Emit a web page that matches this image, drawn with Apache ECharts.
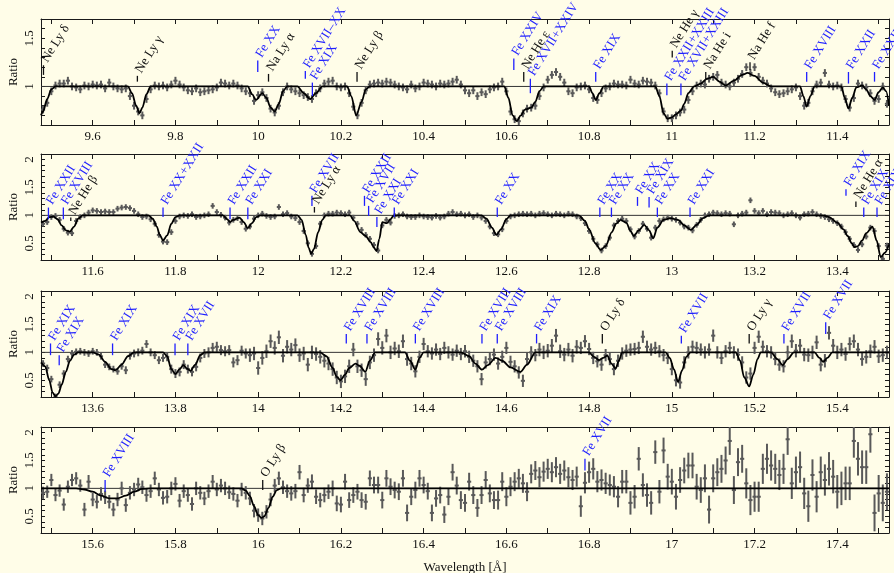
<!DOCTYPE html>
<html><head><meta charset="utf-8">
<script src="https://cdn.jsdelivr.net/npm/echarts@6/dist/echarts.min.js"></script>
<style>html,body{margin:0;padding:0;background:#fffde8}#c{width:894px;height:573px}</style>
</head><body><div id="c"></div><script>
// ---------------- DATA ----------------
const binWidth = 0.01;                 // spectral bin width [Å]
const p1Start = 9.48, p2Start = 11.48, p3Start = 13.48, p4Start = 15.48; // first bin centres

const p1Ratio = [0.76,0.83,0.95,1.01,1.03,1.03,1.06,1.00,0.99,0.97,
1.01,1.00,1.02,1.01,1.02,0.98,1.04,1.00,0.98,0.97,
0.98,0.90,0.80,0.74,0.70,0.87,0.97,1.01,1.00,1.01,
0.99,1.02,1.06,1.02,0.99,0.96,0.95,0.98,0.94,0.95,
0.96,0.97,0.99,1.04,1.03,1.01,1.03,1.01,0.98,0.95,
0.93,0.85,0.91,0.94,0.88,0.77,0.73,0.80,0.94,1.00,
0.97,0.95,0.93,0.91,0.89,0.87,0.93,0.98,1.03,1.05,
1.06,1.00,0.99,1.00,0.93,0.79,0.70,0.83,0.96,1.02,
1.03,1.04,1.03,1.05,1.04,1.02,1.00,0.99,0.97,1.02,
0.98,1.00,1.04,1.03,1.02,1.00,1.03,1.02,1.03,1.05,
1.07,1.02,0.96,0.93,0.96,0.90,0.94,0.92,0.97,0.99,
1.00,1.05,0.95,0.74,0.66,0.64,0.72,0.77,0.78,0.80,
0.90,0.99,1.07,1.12,1.15,1.10,1.04,0.95,0.93,0.99,
1.00,1.01,0.97,0.88,0.86,0.93,0.98,1.00,1.03,1.02,
1.02,1.01,1.07,1.03,1.02,1.06,1.05,1.04,1.01,0.93,
0.74,0.67,0.67,0.70,0.73,0.76,0.86,0.95,1.01,1.03,
1.02,1.08,1.10,1.12,1.04,1.02,1.00,1.04,1.08,1.13,
1.20,1.14,1.20,1.10,1.06,1.03,0.98,0.94,0.92,0.93,
0.95,0.97,0.99,0.90,0.80,0.83,0.95,1.02,1.04,1.14,
1.02,1.00,1.01,0.99,0.87,0.78,0.88,1.03,1.01,0.99,
0.93,0.85,0.87,1.00,0.82];
const p2Ratio = [0.85,0.88,0.97,0.99,0.92,0.76,0.69,0.68,0.90,0.97,
1.00,1.05,1.09,1.08,1.06,1.07,1.06,1.06,1.12,1.14,
1.15,1.13,1.08,1.02,0.97,0.98,0.93,0.85,0.65,0.53,
0.52,0.70,0.90,0.98,1.00,0.99,1.02,0.97,0.98,1.00,
1.02,1.17,1.06,1.01,0.96,0.87,0.92,0.95,0.88,0.76,
0.80,0.94,1.00,1.03,0.99,0.97,0.98,1.15,1.02,1.04,
0.98,0.95,0.88,0.72,0.50,0.31,0.45,0.85,1.00,1.03,
1.03,1.05,1.04,1.02,1.05,0.96,0.85,0.74,0.65,0.58,
0.47,0.37,0.82,0.92,0.87,0.99,1.00,1.02,0.98,0.97,
0.97,1.00,0.98,0.97,0.96,0.99,0.96,0.98,1.03,1.06,
1.02,1.03,1.00,1.02,0.97,1.00,0.96,0.90,0.80,0.68,
0.66,0.75,0.90,0.98,1.00,1.02,1.03,1.02,1.03,1.00,
1.03,1.04,1.02,1.00,1.03,1.02,1.00,1.03,1.02,0.98,
0.95,0.86,0.72,0.58,0.48,0.37,0.45,0.60,0.82,0.90,
0.94,0.90,0.75,0.62,0.72,0.85,0.76,0.60,0.78,0.90,
0.93,0.96,0.94,0.92,0.87,0.80,0.78,0.73,0.83,0.92,
1.00,1.02,1.05,1.04,1.02,1.04,1.03,0.84,1.00,1.03,
1.05,1.27,1.08,1.04,1.08,1.02,1.06,1.05,1.04,1.00,
1.02,1.04,1.00,0.96,1.02,1.03,1.06,1.02,0.99,0.97,
0.93,0.90,0.86,0.80,0.70,0.58,0.47,0.38,0.48,0.62,
0.78,0.72,0.45,0.22,0.46];
const p3Ratio = [0.80,0.72,0.52,0.20,0.42,0.62,0.88,0.98,1.01,1.02,
1.00,0.98,1.02,1.00,0.93,0.78,0.74,0.70,0.66,0.75,
0.68,0.94,0.98,1.00,1.03,1.15,1.00,0.95,0.86,0.90,
0.92,0.70,0.62,0.65,0.78,0.70,0.65,0.74,0.90,0.98,
1.00,1.08,1.10,1.04,1.02,1.04,0.82,0.86,1.03,0.98,
0.95,0.98,0.72,0.90,1.02,1.20,1.08,1.27,0.94,1.10,
1.05,1.13,0.95,0.98,0.78,1.00,0.97,0.92,0.85,0.80,
0.70,0.55,0.48,0.57,0.75,1.05,0.75,0.68,0.52,0.82,
0.95,1.24,1.08,1.30,1.00,1.07,1.02,1.20,0.88,0.80,
0.66,0.92,1.15,1.02,0.98,1.05,0.97,1.08,1.00,0.96,
1.03,0.97,1.02,0.92,0.85,0.75,0.52,0.82,0.88,0.96,
0.80,0.92,1.08,0.83,0.75,0.64,0.49,0.88,1.00,0.95,
1.05,1.00,1.03,1.12,1.30,1.02,0.96,1.05,0.94,1.10,
1.08,1.20,1.06,0.90,0.84,0.78,0.95,0.88,0.70,0.85,
0.98,1.03,1.05,1.06,1.08,1.28,1.10,1.05,1.08,1.02,
0.95,0.90,0.70,0.50,0.46,0.82,1.00,1.10,1.08,1.05,
1.00,1.05,1.30,1.00,0.90,1.02,1.08,1.00,0.96,0.82,
0.55,0.62,1.08,1.28,1.10,1.02,1.00,0.88,0.78,0.75,
1.00,1.20,1.03,1.12,0.96,0.95,1.00,1.18,0.78,0.85,
1.35,1.12,1.00,1.05,0.97,1.15,1.20,1.05,0.88,0.92,
1.02,1.10,0.93,0.95,1.00];
const p4Ratio = [0.92,0.94,1.15,0.88,0.96,0.71,1.03,1.15,1.18,1.05,
0.62,1.12,0.80,0.76,0.90,0.84,0.76,0.62,0.80,1.00,
0.70,0.92,0.98,1.07,1.02,0.88,0.95,1.18,0.98,0.83,
0.85,1.00,1.08,0.78,0.95,0.88,0.72,1.00,0.92,0.82,
0.95,1.12,0.98,1.05,1.00,0.93,0.90,0.78,0.98,0.92,
0.82,0.60,0.52,0.46,0.58,0.80,1.05,1.18,1.02,0.95,
0.91,0.95,1.29,0.88,1.05,1.12,0.85,0.79,0.88,0.94,
1.00,0.73,0.71,1.12,0.79,0.88,0.94,0.79,0.76,1.18,
1.06,1.06,0.79,1.18,1.03,0.97,0.94,1.18,0.56,0.85,
0.97,1.18,1.06,0.95,0.56,0.82,0.88,0.53,0.85,1.29,
1.05,0.79,0.74,1.12,0.88,0.65,0.88,1.15,0.91,0.79,
0.79,1.12,0.85,1.03,1.12,1.18,1.09,0.94,1.26,1.32,
1.20,1.30,1.35,1.29,1.38,1.26,1.32,1.20,1.15,1.21,
0.68,1.10,1.29,1.35,1.12,1.15,1.09,1.06,1.03,0.85,
1.12,1.12,0.74,0.85,1.53,1.06,0.88,0.74,1.65,0.94,
1.68,1.21,1.12,0.85,1.15,1.32,1.41,1.41,1.03,0.97,
1.18,0.62,1.18,1.29,1.35,1.50,1.85,0.97,1.47,1.53,
1.09,0.79,0.85,0.85,1.35,1.53,1.41,1.35,1.24,1.35,
1.88,1.09,1.29,1.38,0.91,0.68,1.24,0.85,1.29,1.15,
1.35,1.21,0.94,1.00,1.09,1.09,1.85,1.53,1.38,1.38,
1.97,0.56,0.91,0.74,0.94];

// 1-sigma errors, one value per 0.1 Å stretch
const p1Err = [0.04,0.04,0.04,0.04,0.04,0.04,0.04,0.04,0.04,0.04,0.04,0.04,0.04,0.04,0.04,0.04,0.04,0.04,0.04,0.04,0.04];
const p2Err = [0.05,0.05,0.05,0.05,0.05,0.05,0.05,0.05,0.05,0.05,0.05,0.05,0.05,0.05,0.05,0.05,0.05,0.05,0.05,0.05,0.05];
const p3Err = [0.06,0.06,0.07,0.08,0.09,0.12,0.12,0.12,0.12,0.11,0.11,0.11,0.12,0.11,0.11,0.11,0.11,0.11,0.12,0.12,0.12];
const p4Err = [0.11,0.12,0.12,0.12,0.12,0.12,0.13,0.14,0.15,0.15,0.16,0.17,0.18,0.19,0.21,0.23,0.25,0.27,0.28,0.30,0.33];

// model curves (wavelength, ratio)
const p1ModelX = [9.475,9.48,9.49,9.50,9.51,9.685,9.695,9.705,9.713,9.72,9.73,9.74,9.975,9.985,9.995,10.01,10.02,10.03,10.04,10.05,10.06,10.07,10.095,10.11,10.126,10.14,10.155,10.215,10.225,10.237,10.25,10.26,10.27,10.595,10.605,10.615,10.625,10.635,10.645,10.66,10.67,10.68,10.69,10.80,10.808,10.816,10.825,10.835,10.96,10.97,10.98,10.99,11.00,11.01,11.022,11.03,11.04,11.054,11.07,11.085,11.10,11.115,11.13,11.15,11.17,11.183,11.20,11.22,11.24,11.31,11.318,11.326,11.335,11.345,11.41,11.418,11.427,11.436,11.446,11.46,11.47,11.48,11.49,11.50,11.51,11.518,11.525];
const p1ModelY = [0.70,0.74,0.87,0.97,1.0,1.0,0.93,0.80,0.72,0.78,0.92,1.0,1.0,0.92,0.86,0.93,0.88,0.78,0.74,0.82,0.95,1.0,1.0,0.93,0.87,0.93,1.0,1.0,0.90,0.70,0.84,0.97,1.0,1.0,0.88,0.70,0.64,0.70,0.76,0.78,0.84,0.95,1.0,1.0,0.93,0.86,0.93,1.0,1.0,0.90,0.72,0.665,0.68,0.71,0.75,0.82,0.93,1.0,1.03,1.08,1.10,1.05,1.01,1.06,1.12,1.14,1.11,1.04,1.0,1.0,0.90,0.79,0.90,1.0,1.0,0.88,0.77,0.88,0.99,1.01,0.97,0.90,0.86,0.94,0.99,0.95,0.80];
const p2ModelX = [11.475,11.485,11.495,11.505,11.515,11.525,11.535,11.545,11.555,11.565,11.575,11.735,11.745,11.755,11.762,11.77,11.78,11.79,11.80,11.81,11.915,11.925,11.932,11.94,11.955,11.965,11.975,11.985,11.995,12.005,12.095,12.105,12.115,12.122,12.128,12.135,12.145,12.155,12.163,12.222,12.232,12.247,12.26,12.272,12.28,12.286,12.293,12.30,12.311,12.32,12.328,12.54,12.552,12.565,12.576,12.587,12.60,12.61,12.775,12.79,12.80,12.815,12.828,12.84,12.855,12.865,12.876,12.89,12.90,12.908,12.92,12.933,12.945,12.955,12.965,12.98,12.997,13.015,13.03,13.046,13.06,13.075,13.09,13.365,13.38,13.40,13.415,13.425,13.435,13.441,13.45,13.46,13.47,13.485,13.495,13.505,13.515,13.525];
const p2ModelY = [0.87,0.90,0.97,0.98,0.93,0.82,0.73,0.71,0.80,0.94,1.0,1.0,0.94,0.80,0.65,0.55,0.64,0.85,0.97,1.0,1.0,0.93,0.88,0.92,0.96,0.88,0.77,0.86,0.97,1.0,1.0,0.92,0.65,0.42,0.31,0.40,0.70,0.92,1.0,1.0,0.90,0.70,0.63,0.52,0.42,0.36,0.58,0.88,0.86,0.93,1.0,1.0,0.94,0.78,0.65,0.75,0.93,1.0,1.0,0.90,0.75,0.50,0.38,0.45,0.70,0.85,0.92,0.87,0.72,0.63,0.73,0.83,0.73,0.59,0.78,0.92,0.95,0.92,0.82,0.74,0.83,0.95,1.0,1.0,0.97,0.87,0.75,0.63,0.50,0.43,0.45,0.55,0.68,0.80,0.55,0.25,0.33,0.48];
const p3ModelX = [13.475,13.485,13.495,13.503,13.51,13.517,13.525,13.535,13.545,13.555,13.565,13.60,13.615,13.63,13.645,13.655,13.67,13.685,13.70,13.77,13.78,13.79,13.80,13.81,13.819,13.828,13.836,13.848,13.86,13.87,14.15,14.165,14.18,14.19,14.199,14.21,14.22,14.235,14.245,14.259,14.27,14.283,14.355,14.367,14.38,14.39,14.40,14.49,14.51,14.525,14.541,14.555,14.574,14.59,14.61,14.634,14.65,14.67,14.80,14.812,14.824,14.834,14.844,14.854,14.864,14.872,14.88,14.985,14.995,15.005,15.015,15.025,15.035,15.045,15.155,15.165,15.175,15.187,15.197,15.207,15.215,15.24,15.255,15.268,15.28,15.295,15.345,15.357,15.366,15.376,15.388,15.525];
const p3ModelY = [0.82,0.75,0.50,0.28,0.21,0.26,0.42,0.65,0.85,0.96,1.0,1.0,0.96,0.83,0.70,0.68,0.78,0.93,1.0,1.0,0.93,0.70,0.61,0.70,0.77,0.71,0.67,0.78,0.95,1.0,1.0,0.93,0.72,0.56,0.50,0.60,0.72,0.80,0.76,0.65,0.85,1.0,1.0,0.85,0.69,0.90,1.0,1.0,0.93,0.80,0.69,0.77,0.90,0.85,0.73,0.65,0.78,1.0,1.0,0.92,0.86,0.90,0.94,0.80,0.71,0.85,1.0,1.0,0.90,0.70,0.47,0.68,0.92,1.0,1.0,0.85,0.55,0.39,0.60,0.88,1.0,1.0,0.88,0.77,0.88,1.0,1.0,0.90,0.83,0.90,1.0,1.0];
const p4ModelX = [15.475,15.56,15.58,15.60,15.62,15.64,15.66,15.68,15.70,15.72,15.74,15.96,15.97,15.98,15.99,16.00,16.008,16.015,16.025,16.035,16.045,16.055,17.525];
const p4ModelY = [1.0,1.0,0.98,0.94,0.87,0.82,0.82,0.87,0.94,0.99,1.0,1.0,0.96,0.86,0.68,0.52,0.47,0.50,0.65,0.85,0.97,1.0,1.0];

// line identifications: [wavelength, label, colour(b/k), tick bottom, tick top]
const p1Lines = [[9.481,'Ne Ly δ','k',1.12,1.22],[9.708,'Ne Ly γ','k',1.05,1.11],[9.999,'Fe XX','b',1.15,1.27],[10.025,'Na Ly α','k',1.05,1.13],
[10.114,'Fe XVII–XX','b',1.08,1.16],[10.131,'Fe XIX','b',0.90,1.04],[10.239,'Ne Ly β','k',1.05,1.15],[10.618,'Fe XXIV','b',1.17,1.29],
[10.642,'Ne He ε','k',1.05,1.15],[10.658,'Fe XVII+XXIV','b',0.93,1.08],[10.816,'Fe XIX','b',1.05,1.15],[11.001,'Ne He γ','k',1.30,1.37],
[10.988,'Fe XXII+XXIII','b',0.91,1.03],[11.022,'Fe XVII+XXIII','b',0.91,1.03],[11.082,'Na He i','k',1.07,1.15],[11.189,'Na He f','k',1.17,1.25],
[11.326,'Fe XVIII','b',1.05,1.15],[11.427,'Fe XXII','b',1.03,1.15],[11.490,'Fe XXII','b',1.05,1.15]];
const p2Lines = [[11.493,'Fe XXII','b',0.93,1.14],[11.529,'Fe XVIII','b',0.93,1.14],[11.547,'Ne He β','k',0.90,0.96],[11.77,'Fe XX+XXII','b',0.97,1.14],
[11.932,'Fe XXII','b',0.93,1.14],[11.975,'Fe XXI','b',0.93,1.14],[12.130,'Fe XVII','b',1.17,1.35],[12.136,'Ne Ly α','k',1.05,1.15],
[12.257,'Fe XXII','b',1.17,1.35],[12.267,'Fe XVII','b',0.99,1.17],[12.287,'Fe XXI','b',0.79,0.97],[12.329,'Fe XXI','b',0.97,1.14],
[12.578,'Fe XX','b',0.97,1.14],[12.826,'Fe XX','b',0.97,1.14],[12.854,'Fe XX','b',0.97,1.14],[12.917,'Fe XX','b',1.17,1.33],
[12.945,'Fe XIX','b',1.14,1.33],[12.965,'Fe XX','b',0.97,1.14],[13.044,'Fe XXI','b',0.97,1.14],[13.421,'Fe XIX','b',1.35,1.47],
[13.445,'Ne He α','k',1.15,1.25],[13.464,'Fe XIX','b',0.97,1.14],[13.496,'Fe XIX','b',0.97,1.14]];
const p3Lines = [[13.498,'Fe XIX','b',0.95,1.16],[13.519,'Fe XIX','b',0.77,0.95],[13.648,'Fe XIX','b',0.95,1.16],[13.799,'Fe XIX','b',0.95,1.16],
[13.830,'Fe XVII','b',0.95,1.16],[14.213,'Fe XVIII','b',1.16,1.33],[14.263,'Fe XVIII','b',1.16,1.33],[14.380,'Fe XVIII','b',1.16,1.33],
[14.541,'Fe XVIII','b',1.16,1.33],[14.578,'Fe XVIII','b',1.16,1.33],[14.673,'Fe XIX','b',1.16,1.33],[14.832,'O Ly δ','k',1.16,1.33],
[15.023,'Fe XVII','b',1.16,1.30],[15.187,'O Ly γ','k',1.16,1.33],[15.271,'Fe XVII','b',1.16,1.33],[15.372,'Fe XVII','b',1.33,1.54]];
const p4Lines = [[15.630,'Fe XVIII','b',0.94,1.15],[16.011,'O Ly β','k',0.97,1.15],[16.790,'Fe XVII','b',1.32,1.53]];

// axes
const xRanges = [[9.475,11.525],[11.475,13.525],[13.475,15.525],[15.475,17.525]];
const yRanges = [[0.6,1.7],[0.2,2.1],[0.2,2.1],[0.2,2.1]];
const p1XTicks = [9.5,9.6,9.7,9.8,9.9,10,10.1,10.2,10.3,10.4,10.5,10.6,10.7,10.8,10.9,11,11.1,11.2,11.3,11.4,11.5];
const p2XTicks = [11.5,11.6,11.7,11.8,11.9,12,12.1,12.2,12.3,12.4,12.5,12.6,12.7,12.8,12.9,13,13.1,13.2,13.3,13.4,13.5];
const p3XTicks = [13.5,13.6,13.7,13.8,13.9,14,14.1,14.2,14.3,14.4,14.5,14.6,14.7,14.8,14.9,15,15.1,15.2,15.3,15.4,15.5];
const p4XTicks = [15.5,15.6,15.7,15.8,15.9,16,16.1,16.2,16.3,16.4,16.5,16.6,16.7,16.8,16.9,17,17.1,17.2,17.3,17.4,17.5];
const p1XLabels = [9.6,9.8,10,10.2,10.4,10.6,10.8,11,11.2,11.4];
const p2XLabels = [11.6,11.8,12,12.2,12.4,12.6,12.8,13,13.2,13.4];
const p3XLabels = [13.6,13.8,14,14.2,14.4,14.6,14.8,15,15.2,15.4];
const p4XLabels = [15.6,15.8,16,16.2,16.4,16.6,16.8,17,17.2,17.4];
const p1YTicks = [0.6,0.7,0.8,0.9,1,1.1,1.2,1.3,1.4,1.5,1.6,1.7];
const pYTicks = [0.2,0.3,0.4,0.5,0.6,0.7,0.8,0.9,1,1.1,1.2,1.3,1.4,1.5,1.6,1.7,1.8,1.9,2,2.1];
const p1YLabels = [1,1.5];
const pYLabels = [0.5,1,1.5,2];

// ---------------- CHART ----------------
const FONT = '"Liberation Serif","Times New Roman",serif';
const BLUE = '#1f1fff', BLACK = '#111', GREY = '#595959';
const ANG = 58 * Math.PI / 180;
const HALF = binWidth / 2;

const starts = [p1Start,p2Start,p3Start,p4Start];
const ratios = [p1Ratio,p2Ratio,p3Ratio,p4Ratio];
const errs = [p1Err,p2Err,p3Err,p4Err];
const modelsX = [p1ModelX,p2ModelX,p3ModelX,p4ModelX];
const modelsY = [p1ModelY,p2ModelY,p3ModelY,p4ModelY];
const linesAll = [p1Lines,p2Lines,p3Lines,p4Lines];
const xTicks = [p1XTicks,p2XTicks,p3XTicks,p4XTicks];
const xLabels = [p1XLabels,p2XLabels,p3XLabels,p4XLabels];
const yTicks = [p1YTicks,pYTicks,pYTicks,pYTicks];
const yLabels = [p1YLabels,pYLabels,pYLabels,pYLabels];
const tops = [19,154,291,427];

const grid = tops.map(t => ({left:41, right:5, top:t, height:106, containLabel:false, outerBoundsMode:'none'}));
const xAxis = [], yAxis = [], series = [];
const axLine = {show:true, onZero:false, lineStyle:{color:'#1a1a1a', width:1}};
for (let i = 0; i < 4; i++) {
  xAxis[i] = {gridIndex:i, type:'value', min:xRanges[i][0], max:xRanges[i][1], position:'bottom',
    axisLine:axLine, splitLine:{show:false},
    axisTick:{show:true, inside:true, length:5, customValues:xTicks[i], lineStyle:{color:'#1a1a1a'}},
    axisLabel:{customValues:xLabels[i], fontFamily:FONT, fontSize:13, color:'#111', margin:5},
    name: i === 3 ? 'Wavelength [Å]' : '', nameLocation:'middle', nameGap:28, nameMoveOverlap:false,
    nameTextStyle:{fontFamily:FONT, fontSize:13, color:'#111'}};
  xAxis[4+i] = {gridIndex:i, type:'value', min:xRanges[i][0], max:xRanges[i][1], position:'top',
    axisLine:axLine, splitLine:{show:false},
    axisTick:{show:true, inside:true, length:5, customValues:xTicks[i], lineStyle:{color:'#1a1a1a'}},
    axisLabel:{show:false}};
  yAxis[i] = {gridIndex:i, type:'value', min:yRanges[i][0], max:yRanges[i][1], position:'left',
    axisLine:axLine, splitLine:{show:false},
    axisTick:{show:true, inside:true, length:4, customValues:yTicks[i], lineStyle:{color:'#1a1a1a'}},
    axisLabel:{customValues:yLabels[i], rotate:90, fontFamily:FONT, fontSize:13, color:'#111', margin:5},
    name:'Ratio', nameLocation:'middle', nameGap:21, nameRotate:90, nameMoveOverlap:false,
    nameTextStyle:{fontFamily:FONT, fontSize:13, color:'#111'}};
  yAxis[4+i] = {gridIndex:i, type:'value', min:yRanges[i][0], max:yRanges[i][1], position:'right',
    axisLine:axLine, splitLine:{show:false},
    axisTick:{show:true, inside:true, length:4, customValues:yTicks[i], lineStyle:{color:'#1a1a1a'}},
    axisLabel:{show:false}};

  // unity reference line
  series.push({type:'line', xAxisIndex:i, yAxisIndex:i, data:[[xRanges[i][0],1],[xRanges[i][1],1]],
    symbol:'none', silent:true, lineStyle:{color:'#333', width:1}, z:1});

  // data with error bars
  const pts = ratios[i].map((r, k) => [starts[i] + k * binWidth, r, errs[i][Math.floor(k/10)]]);
  series.push({type:'custom', xAxisIndex:i, yAxisIndex:i, clip:true, z:2, silent:true,
    encode:{x:0, y:1}, data:pts,
    renderItem:(params, api) => {
      const x = api.value(0), y = api.value(1), e = api.value(2);
      const a = api.coord([x, y - e]), b = api.coord([x, y + e]);
      const l = api.coord([x - HALF, y]), r = api.coord([x + HALF, y]);
      return {type:'group', children:[
        {type:'line', shape:{x1:a[0],y1:a[1],x2:b[0],y2:b[1]}, style:{stroke:GREY, lineWidth:2}},
        {type:'line', shape:{x1:l[0],y1:l[1],x2:r[0],y2:r[1]}, style:{stroke:GREY, lineWidth:2}}
      ]};
    }});

  // model
  series.push({type:'line', xAxisIndex:i, yAxisIndex:i, clip:true, z:3, silent:true,
    data: modelsX[i].map((x, k) => [x, modelsY[i][k]]),
    symbol:'none', smooth:0.3, smoothMonotone:'x', lineStyle:{color:'#000', width:1.8}});

  // line identifications
  const L = linesAll[i];
  series.push({type:'custom', xAxisIndex:i, yAxisIndex:i, clip:false, z:5, silent:true,
    encode:{x:0, y:1}, data: L.map(l => [l[0], l[4]]),
    renderItem:(params, api) => {
      const d = L[params.dataIndex];
      const p0 = api.coord([d[0], d[3]]), p1 = api.coord([d[0], d[4]]);
      const col = d[2] === 'b' ? BLUE : BLACK;
      return {type:'group', children:[
        {type:'line', shape:{x1:p0[0],y1:p0[1],x2:p1[0],y2:p1[1]}, style:{stroke:col, lineWidth:1.3}},
        {type:'text', x:p1[0] + 1, y:p1[1] - 4, rotation:ANG,
          style:{text:d[1], fill:col, font:'13px ' + FONT, align:'left', verticalAlign:'middle'}}
      ]};
    }});
}

const chart = echarts.init(document.getElementById('c'), null, {renderer:'canvas'});
chart.setOption({backgroundColor:'#fffde8', animation:false, grid, xAxis, yAxis, series});
</script></body></html>
